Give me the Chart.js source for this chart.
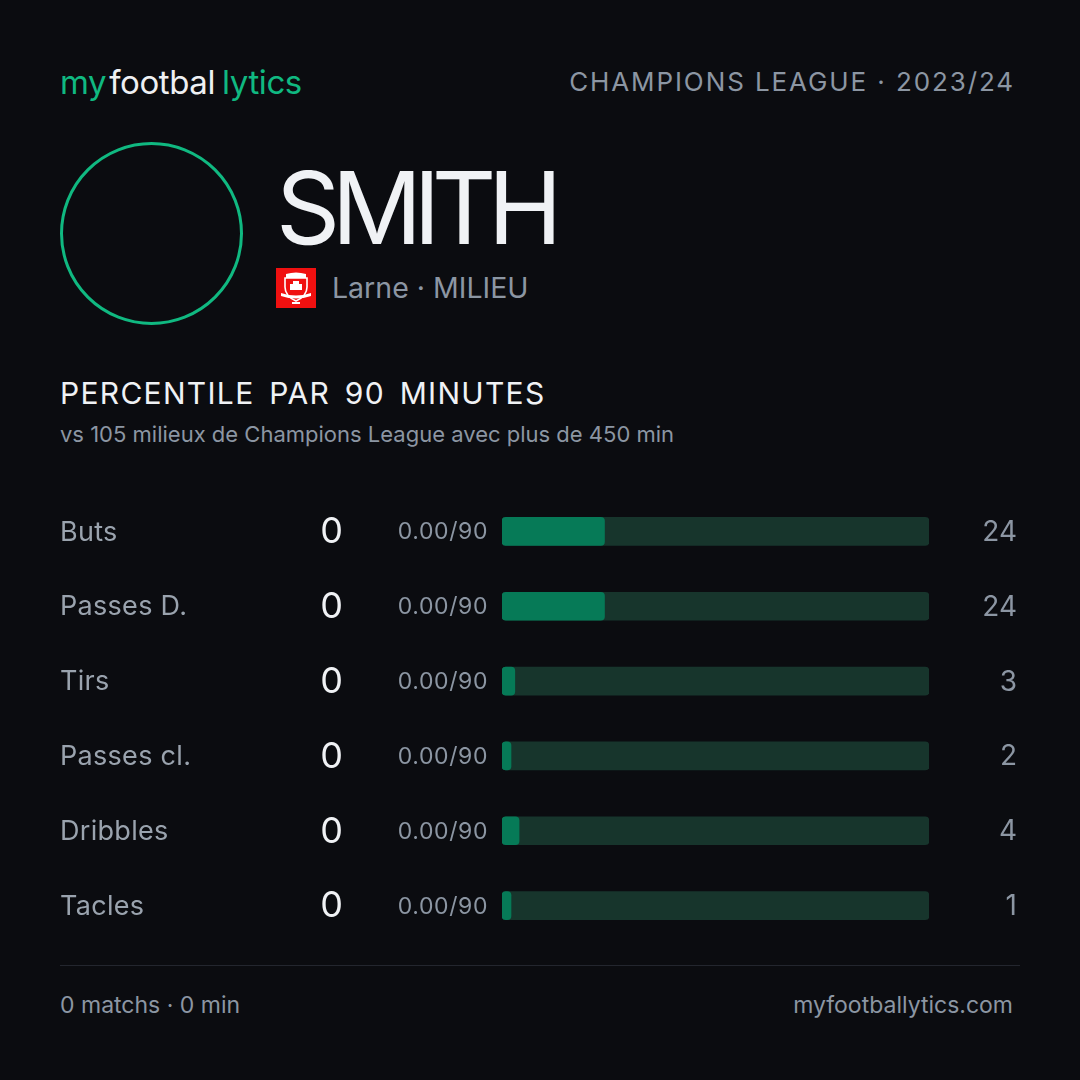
<!DOCTYPE html>
<html>
<head>
<meta charset="utf-8">
<script src="https://cdn.jsdelivr.net/npm/chart.js@4.4.1/dist/chart.umd.min.js"></script>
<style>
  html, body { margin: 0; padding: 0; background: #0b0c10; }
  body { width: 1080px; height: 1080px; position: relative; overflow: hidden; font-family: Inter, "Noto Sans", sans-serif; }
  .abs { position: absolute; white-space: nowrap; }
  .logo { left: 60px; top: 62px; font-size: 33px; letter-spacing: -0.4px; }
  .logo .g { color: #10b981; }
  .logo .w { color: #eef0f3; }
  .comp { right: 65px; top: 66px; font-size: 26px; letter-spacing: 1.9px; color: #8c96a3; }
  .ring { left: 60px; top: 142px; width: 177px; height: 177px; border: 3px solid #10b981; border-radius: 50%; }
  .name { left: 276px; top: 148px; font-size: 100px; color: #f0f2f5; letter-spacing: -8.5px; line-height: 1.2; }
  .badge { left: 276px; top: 268px; width: 40px; height: 40px; }
  .club { left: 332px; top: 270px; font-size: 28.5px; color: #8c96a3; }
  .title { left: 60px; top: 375px; font-size: 30px; color: #f0f2f5; letter-spacing: 1.3px; word-spacing: 5px; }
  .sub { left: 60px; top: 421px; font-size: 22px; color: #8c96a3; letter-spacing: 0px; }
  .sep { left: 60px; top: 965px; width: 960px; height: 1px; background: #23262e; }
  .foot { top: 991px; font-size: 23px; color: #8c96a3; }
  #chart-wrap { position: absolute; left: 0; top: 494px; width: 1080px; height: 449px; }
</style>
</head>
<body>
<div class="abs logo"><span class="g">my</span><span class="w" style="margin-left:3px">footbal</span><span class="g" style="margin-left:7px">lytics</span></div>
<div class="abs comp">CHAMPIONS LEAGUE · 2023/24</div>
<div class="abs ring"></div>
<div class="abs name">SMITH</div>
<svg class="abs badge" viewBox="0 0 40 40">
  <rect width="40" height="40" fill="#f01010"/>
  <path d="M10 6 Q20 3 30 6 L30 10 L10 10 Z" fill="#fff"/>
  <path d="M9 10 H31 V19 Q31 28 20 33 Q9 28 9 19 Z" fill="none" stroke="#fff" stroke-width="1.6"/>
  <path d="M14 22 L14 16 L17 16 L17 13 L23 13 L23 16 L26 16 L26 22 Z" fill="#fff"/>
  <path d="M5 25 Q20 30 35 25 L35 28 Q20 33 5 28 Z" fill="#fff"/>
  <rect x="16" y="34" width="8" height="2" fill="#fff"/>
</svg>
<div class="abs club">Larne · MILIEU</div>
<div class="abs title">PERCENTILE PAR 90 MINUTES</div>
<div class="abs sub">vs 105 milieux de Champions League avec plus de 450 min</div>
<div id="chart-wrap"><canvas id="bars"></canvas></div>
<div class="abs sep"></div>
<div class="abs foot" style="left:60px">0 matchs · 0 min</div>
<div class="abs foot" style="right:67px">myfootballytics.com</div>

<script>
var statLabels = ["Buts", "Passes D.", "Tirs", "Passes cl.", "Dribbles", "Tacles"];
var statTotals = [0, 0, 0, 0, 0, 0];
var statPer90 = ["0.00/90", "0.00/90", "0.00/90", "0.00/90", "0.00/90", "0.00/90"];
var percentiles = [24, 24, 3, 2, 4, 1];
var trackValues = [100, 100, 100, 100, 100, 100];

// texte des lignes, calé sur l'axe y du graphique
var rowText = {
    id: 'rowText',
    afterDatasetsDraw: function(chart) {
        var ctx = chart.ctx;
        var y = chart.scales.y;
        ctx.save();
        ctx.textBaseline = 'middle';
        statLabels.forEach(function(lab, i) {
            var py = y.getPixelForValue(i);
            ctx.letterSpacing = '0.3px';
            ctx.fillStyle = '#9aa3ae';
            ctx.font = '27px Inter';
            ctx.textAlign = 'left';
            ctx.fillText(lab, 60, py + 1);

            ctx.letterSpacing = '0px';
            ctx.fillStyle = '#f0f2f5';
            ctx.font = '36px Inter';
            ctx.textAlign = 'right';
            ctx.fillText(String(statTotals[i]), 343, py + 1);

            ctx.letterSpacing = '0.6px';
            ctx.fillStyle = '#8c96a3';
            ctx.font = '23px Inter';
            ctx.fillText(statPer90[i], 488, py + 1);

            ctx.letterSpacing = '0px';
            ctx.fillStyle = '#8c96a3';
            ctx.font = '28px Inter';
            ctx.fillText(String(percentiles[i]), 1017, py + 1);
        });
        ctx.restore();
    }
};

function draw() {
    new Chart(document.getElementById('bars'), {
        type: 'bar',
        data: {
            labels: statLabels,
            datasets: [{
                label: 'Percentile',
                data: percentiles,
                backgroundColor: '#067a57',
                borderRadius: 4,
                borderSkipped: false,
                minBarLength: 9,
                barThickness: 28
            }, {
                label: 'Fond',
                data: trackValues,
                backgroundColor: '#17352c',
                borderRadius: 4,
                borderSkipped: false,
                barThickness: 28
            }]
        },
        options: {
            indexAxis: 'y',
            responsive: true,
            maintainAspectRatio: false,
            animation: false,
            datasets: { bar: { grouped: false } },
            layout: { padding: { left: 502, right: 151, top: 0, bottom: 0 } },
            scales: {
                x: { display: false, min: 0, max: 100 },
                y: { display: false }
            },
            plugins: {
                legend: { display: false },
                tooltip: { enabled: false }
            }
        },
        plugins: [rowText]
    });
}

if (document.fonts && document.fonts.load) {
    Promise.all([document.fonts.load('26px Inter'), document.fonts.load('34px Inter')]).then(draw, draw);
} else {
    draw();
}
</script>
</body>
</html>
